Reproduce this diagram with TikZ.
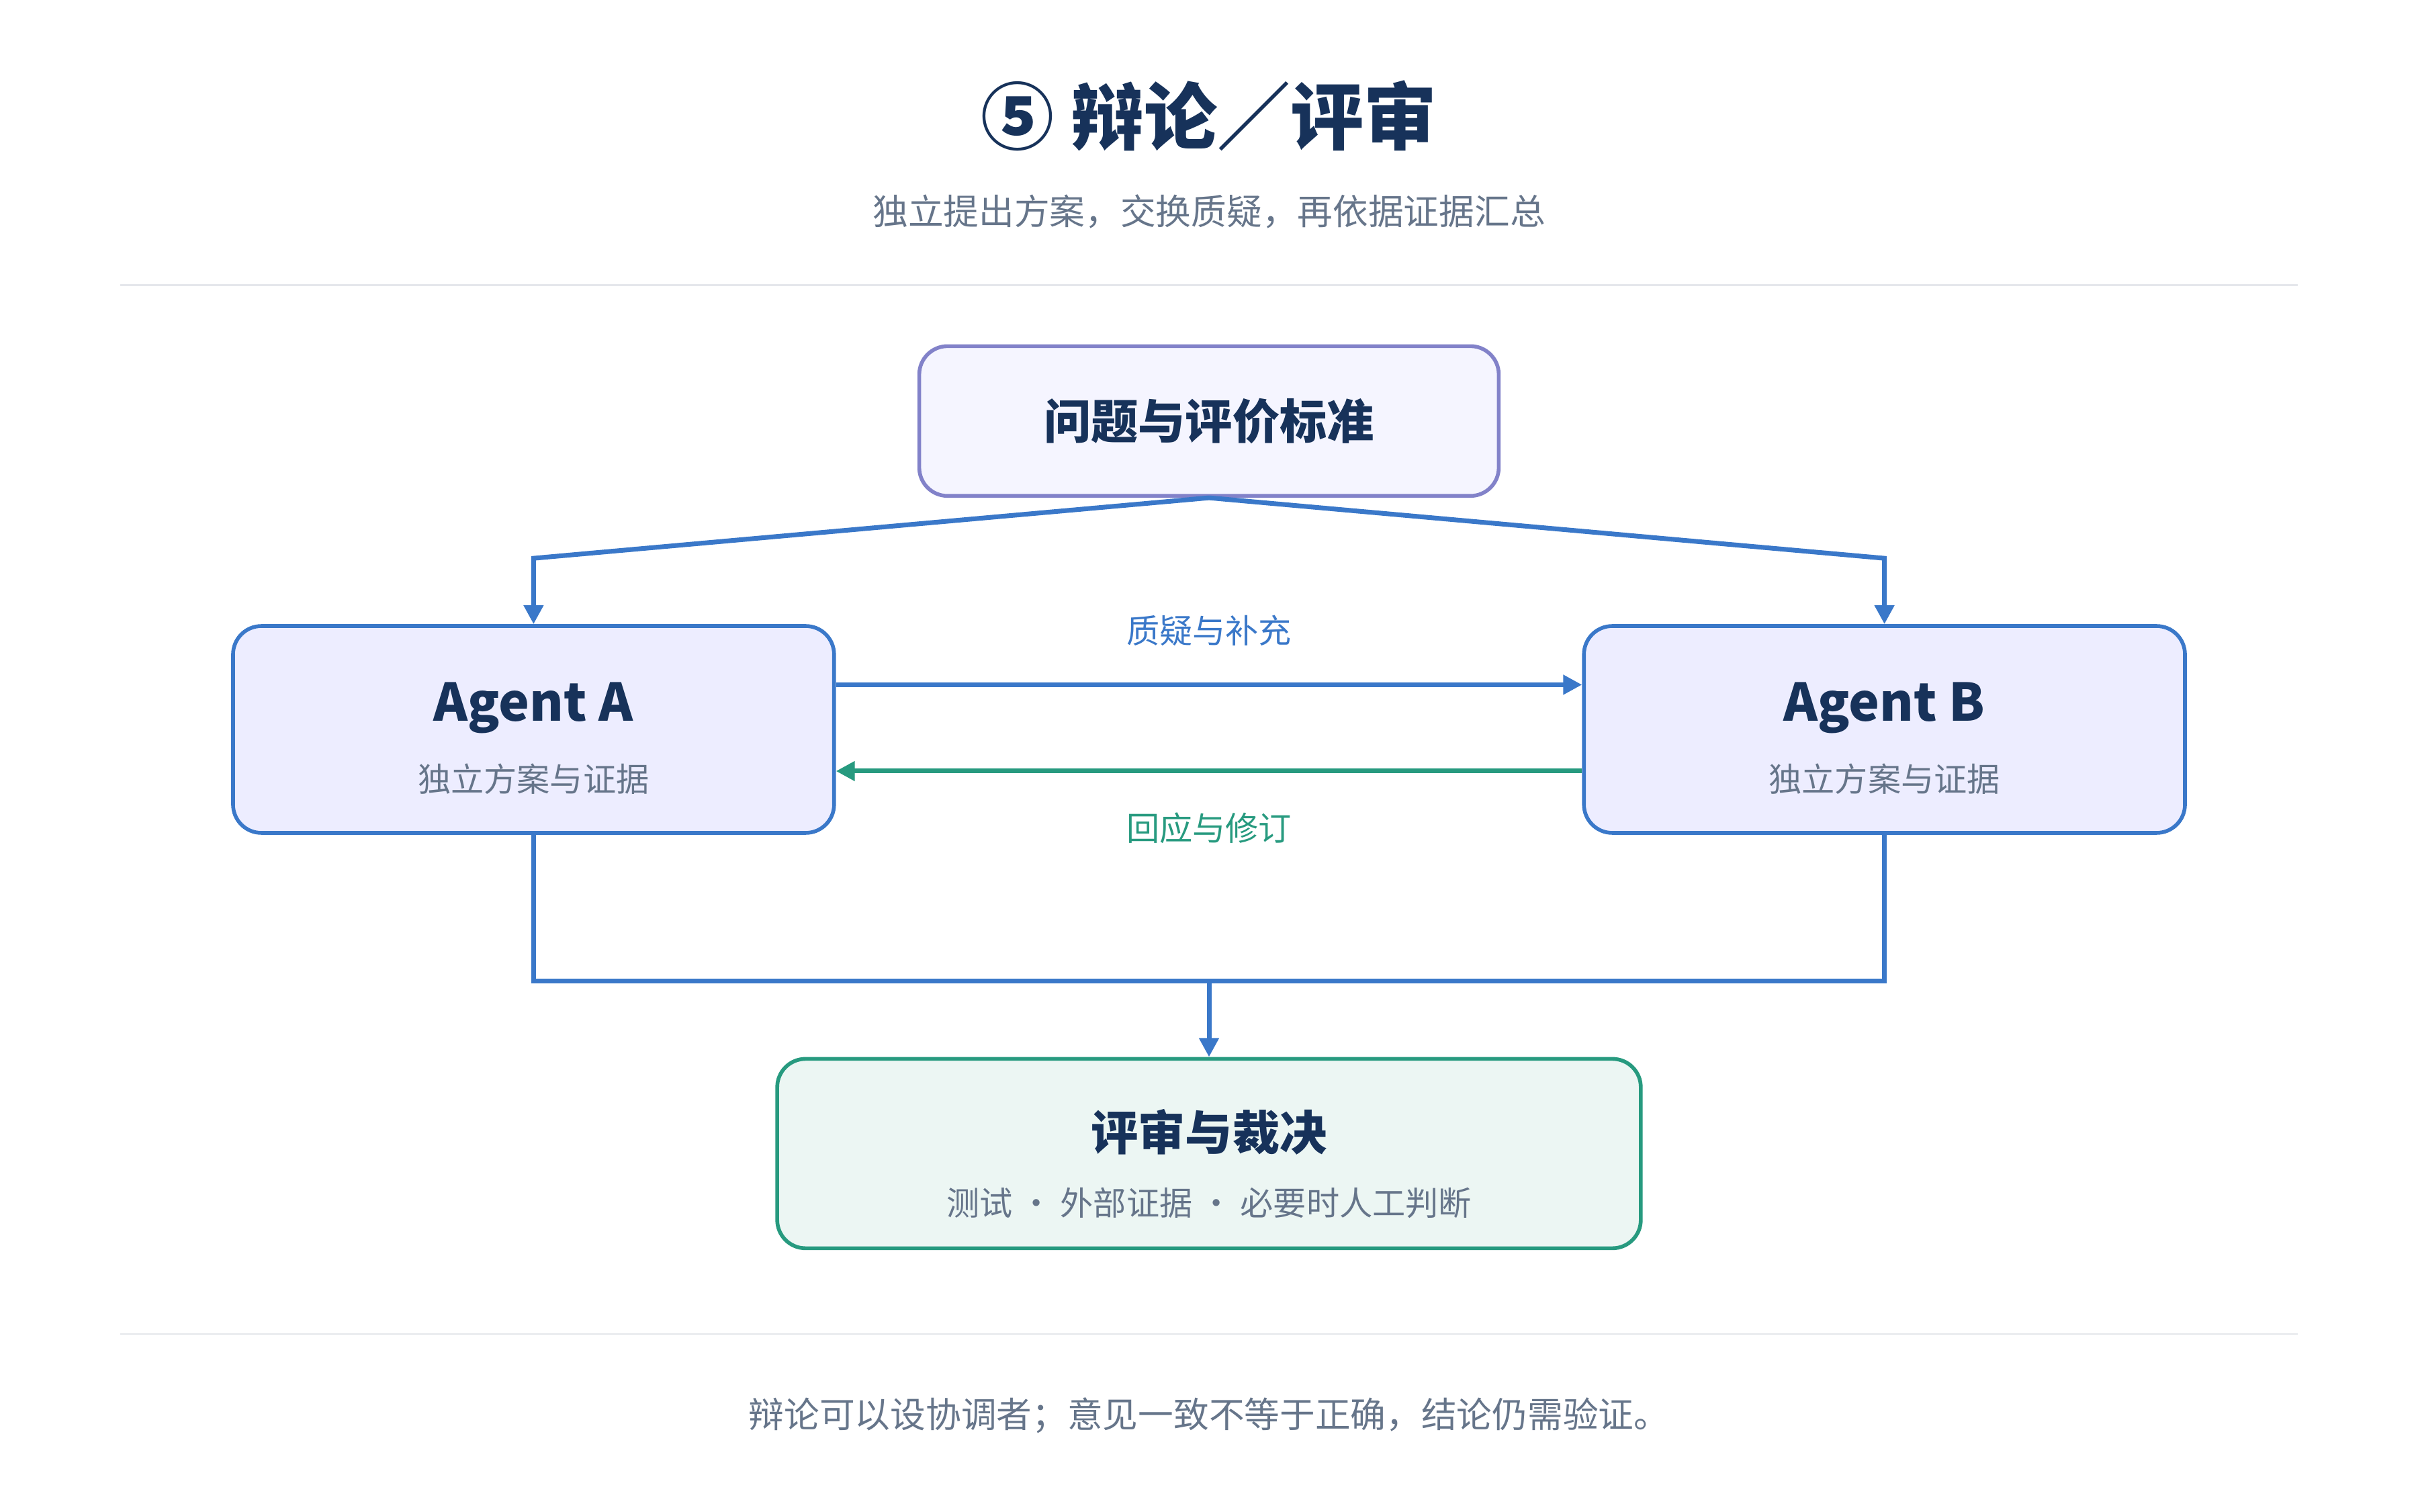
\documentclass[tikz,border=0pt]{standalone}
\usepackage{fontspec}
\setmainfont{Noto Sans CJK SC}
\usetikzlibrary{positioning}
\usetikzlibrary{arrows.meta}
\definecolor{navy}{HTML}{17325A}
\definecolor{flowblue}{HTML}{3A78C9}
\definecolor{flowgreen}{HTML}{279A7F}
\definecolor{greytext}{HTML}{66758A}
\definecolor{rulegrey}{HTML}{E5E7EB}
\tikzset{
  x=0.02296cm, y=-0.02296cm,
  % boxes
  box/.style={draw, rounded corners=12pt, line width=1.6pt},
  question/.style={box, draw=gray!60!blue!70, fill=blue!4, minimum width=8.63cm, minimum height=2.23cm},
  agent/.style={box, draw=flowblue, fill=blue!7, minimum width=8.95cm, minimum height=3.08cm},
  verdict/.style={box, draw=flowgreen, fill=flowgreen!9, minimum width=12.86cm, minimum height=2.82cm},
  % texts
  head/.style={text=navy, font=\bfseries\fontsize{20}{24}\selectfont},
  sub/.style={text=greytext, font=\fontsize{14}{17}\selectfont},
  % connectors
  flow/.style={flowblue, line width=2pt, -{Triangle[width=8pt,length=8pt]}},
  line/.style={flowblue, line width=2pt},
  back/.style={flowgreen, line width=2pt, -{Triangle[width=8pt,length=8pt]}},
}
\begin{document}
\begin{tikzpicture}
  \useasboundingbox (0,0) rectangle (1568,980);

  \node[text=navy, font=\bfseries\fontsize{31}{36}\selectfont] (title) at (784,75) {⑤ 辩论／评审};
  \node[text=greytext, font=\fontsize{15}{18}\selectfont] (subtitle) at (784,137) {独立提出方案，交换质疑，再依据证据汇总};
  \draw[rulegrey, line width=0.8pt] (78,185) -- (1490,185);
  \draw[rulegrey, line width=0.8pt] (78,865) -- (1490,865);

  \node[question] (q) at (784,273) {};
  \node[head] at (q) {问题与评价标准};

  \node[agent] (a) at (346,473) {};
  \node[head, font=\bfseries\fontsize{22}{26}\selectfont] (at) at (346,459) {Agent A};
  \node[sub] at (346,505) {独立方案与证据};

  \node[agent] (b) at (1222,473) {};
  \node[head, font=\bfseries\fontsize{22}{26}\selectfont] (bt) at (1222,459) {Agent B};
  \node[sub] at (1222,505) {独立方案与证据};

  \node[verdict] (v) at (784,748) {};
  \node[head] at (784,734) {评审与裁决};
  \node[sub] at (784,780) {测试 · 外部证据 · 必要时人工判断};

  \coordinate (qa) at (346,362);
  \coordinate (qb) at (1222,362);
  \draw[flow] (q.south) -- (qa) -- (a.north);
  \draw[flow] (q.south) -- (qb) -- (b.north);

  \draw[flow] (a.east |- 0,444) -- (b.west |- 0,444);
  \draw[back] (b.west |- 0,500) -- (a.east |- 0,500);
  \node[text=flowblue, font=\fontsize{14}{17}\selectfont] at (784,409) {质疑与补充};
  \node[text=flowgreen, font=\fontsize{14}{17}\selectfont] at (784,537) {回应与修订};

  \coordinate (ja) at (346,636);
  \coordinate (jb) at (1222,636);
  \coordinate (jm) at (784,636);
  \draw[line] (a.south) -- (ja) -- (jb) -- (b.south);
  \draw[flow] (jm) -- (v.north);

  \node[text=greytext, font=\fontsize{15}{18}\selectfont] (foot) at (784,918) {辩论可以设协调者；意见一致不等于正确，结论仍需验证。};
\end{tikzpicture}
\end{document}
